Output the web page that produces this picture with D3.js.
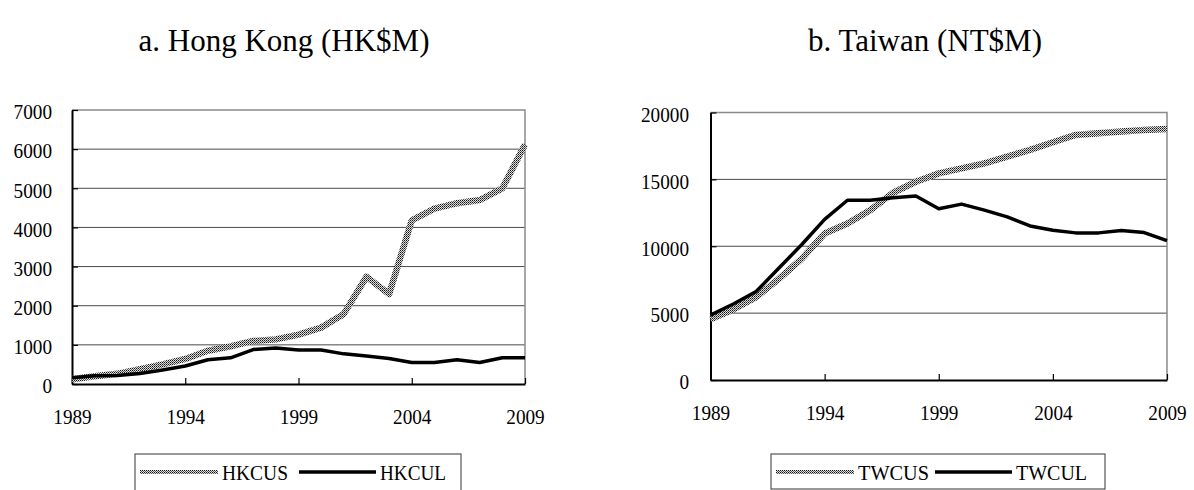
<!DOCTYPE html>
<html>
<head>
<meta charset="utf-8">
<script src="https://cdn.jsdelivr.net/npm/d3@7"></script>
<style>
	body { margin: 0; background: #fff; }
	svg { display: block; }
</style>
</head>
<body>
<div id="chart"></div>
<script>
const years = [1989, 1990, 1991, 1992, 1993, 1994, 1995, 1996, 1997, 1998, 1999,
	2000, 2001, 2002, 2003, 2004, 2005, 2006, 2007, 2008, 2009];
const yearTicks = [1989, 1994, 1999, 2004, 2009];

const hkcus = [120, 200, 260, 380, 500, 640, 850, 960, 1100, 1140, 1260,
	1440, 1790, 2740, 2300, 4180, 4480, 4620, 4700, 5000, 6120];
const hkcul = [160, 210, 220, 270, 360, 460, 620, 670, 880, 920, 870,
	870, 770, 715, 650, 550, 550, 620, 550, 670, 670];
const hkTicks = [0, 1000, 2000, 3000, 4000, 5000, 6000, 7000];

const twcus = [4550, 5275, 6200, 7575, 9075, 10950, 11700, 12700, 14000, 14825, 15450,
	15825, 16200, 16700, 17200, 17775, 18325, 18450, 18575, 18700, 18775];
const twcul = [4850, 5680, 6610, 8370, 10130, 12010, 13440, 13440, 13620, 13750, 12800,
	13150, 12700, 12200, 11520, 11200, 11000, 11000, 11180, 11020, 10420];
const twTicks = [0, 5000, 10000, 15000, 20000];

const SERIF = "'Liberation Serif', 'DejaVu Serif', serif";

const svg = d3.select("#chart").append("svg").attr("width", 1194).attr("height", 490);

/* stippled grey fill used for the CUS series */
const pat = svg.append("defs").append("pattern").attr("id", "stipple")
	.attr("patternUnits", "userSpaceOnUse").attr("width", 2).attr("height", 2);
pat.append("rect").attr("width", 2).attr("height", 2).attr("fill", "#dcdcdc");
pat.append("rect").attr("width", 1).attr("height", 1).attr("fill", "#151515");
pat.append("rect").attr("x", 1).attr("y", 1).attr("width", 1).attr("height", 1).attr("fill", "#555");

/*
* Draw one panel: title, axes, grid, the two series and the legend
*/
function drawPanel(p) {
	let g = svg.append("g");
	let x = d3.scaleLinear().domain([1989, 2009]).range([p.left, p.right]);
	let y = d3.scaleLinear().domain([0, p.max]).range([p.bottom, p.top]);

	g.append("text").attr("x", p.titleX).attr("y", 51).attr("text-anchor", "middle")
		.style("font-family", SERIF).style("font-size", "31px")
		.text(p.title);

	// grid
	g.selectAll(".grid").data(p.ticks.slice(1, -1)).enter().append("line")
		.attr("x1", p.left).attr("x2", p.right).attr("y1", d => y(d)).attr("y2", d => y(d))
		.attr("stroke", "#4a4a4a").attr("stroke-width", 1);
	// frame top and right
	g.append("path").attr("d", `M${p.left},${y(p.max)}H${p.right}V${p.bottom}`)
		.attr("fill", "none").attr("stroke", "#8a8a8a").attr("stroke-width", 1.5);

	// y axis
	let ya = d3.axisLeft(y).tickValues(p.ticks).tickFormat(d3.format("d"))
		.tickSize(-6).tickSizeOuter(0);
	let yg = g.append("g").attr("transform", `translate(${p.left},0)`).call(ya);
	yg.select(".domain").attr("stroke", "#000").attr("stroke-width", 2);
	yg.selectAll(".tick line").attr("stroke", "#000").attr("stroke-width", 1.2);
	yg.selectAll(".tick text").attr("x", p.labelRight - p.left).attr("dy", "0.4em")
		.style("font-size", "22px").style("font-family", SERIF)
		.attr("textLength", d => String(d).length * 9.6).attr("lengthAdjust", "spacingAndGlyphs");

	// x axis
	let xa = d3.axisBottom(x).tickValues(yearTicks).tickFormat(d3.format("d")).tickSize(-6).tickSizeOuter(0);
	let xg = g.append("g").attr("transform", `translate(0,${p.bottom})`).call(xa);
	xg.select(".domain").attr("stroke", "#000").attr("stroke-width", 2);
	xg.selectAll(".tick line").attr("stroke", "#000").attr("stroke-width", 1.2);
	xg.selectAll(".tick text").attr("y", 31).attr("dy", "0.4em")
		.style("font-size", "22px").style("font-family", SERIF)
		.attr("textLength", 38.4).attr("lengthAdjust", "spacingAndGlyphs");

	let line = d3.line().x((d, i) => x(years[i])).y(d => y(d));
	g.append("path").datum(p.cus).attr("d", line).attr("fill", "none")
		.attr("stroke", "url(#stipple)").attr("stroke-width", 6.5).attr("stroke-linejoin", "round");
	g.append("path").datum(p.cul).attr("d", line).attr("fill", "none")
		.attr("stroke", "#000").attr("stroke-width", 3.5).attr("stroke-linejoin", "round");

	// legend
	let lg = g.append("g");
	lg.append("rect").attr("x", p.legX).attr("y", 454).attr("width", p.legW).attr("height", p.legH)
		.attr("fill", "#fff").attr("stroke", "#333").attr("stroke-width", 1);
	let ly = 472;
	lg.append("line").attr("x1", p.legX + 5).attr("x2", p.legX + 83).attr("y1", ly).attr("y2", ly)
		.attr("stroke", "url(#stipple)").attr("stroke-width", 4);
	lg.append("text").attr("x", p.legX + 87).attr("y", ly).attr("dy", "0.36em")
		.style("font-family", SERIF).style("font-size", "22px")
		.attr("textLength", p.nameW).attr("lengthAdjust", "spacingAndGlyphs")
		.text(p.names[0]);
	lg.append("line").attr("x1", p.legX + 164).attr("x2", p.legX + 241).attr("y1", ly).attr("y2", ly)
		.attr("stroke", "#000").attr("stroke-width", 3.5);
	lg.append("text").attr("x", p.legX + 245).attr("y", ly).attr("dy", "0.36em")
		.style("font-family", SERIF).style("font-size", "22px")
		.attr("textLength", p.nameW).attr("lengthAdjust", "spacingAndGlyphs")
		.text(p.names[1]);
}

drawPanel({
	title: "a. Hong Kong (HK$M)", titleX: 284,
	left: 72, right: 525, top: 110, bottom: 384, max: 7000, ticks: hkTicks, labelRight: 52,
	cus: hkcus, cul: hkcul, names: ["HKCUS", "HKCUL"],
	legX: 135, legW: 326, legH: 45, nameW: 66
});

drawPanel({
	title: "b. Taiwan (NT$M)", titleX: 925,
	left: 710.5, right: 1167, top: 112.5, bottom: 380, max: 20000, ticks: twTicks, labelRight: 689,
	cus: twcus, cul: twcul, names: ["TWCUS", "TWCUL"],
	legX: 771, legW: 334, legH: 35, nameW: 71
});
</script>
</body>
</html>
